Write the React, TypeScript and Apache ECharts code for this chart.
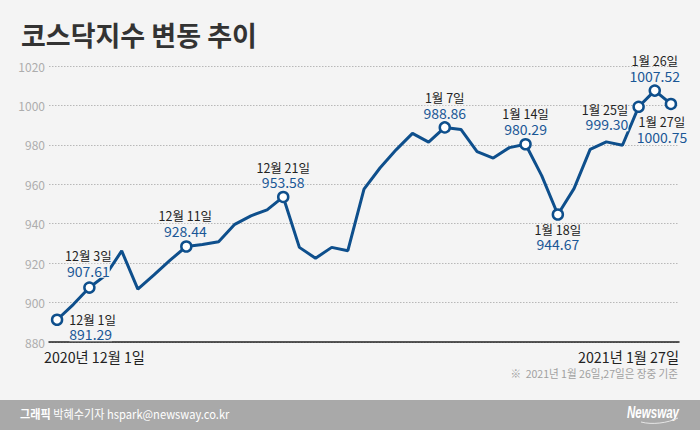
import React, { useEffect, useRef } from 'react';
import * as echarts from 'echarts';

// ---- data ----
const categories = [
  '12월 1일', '12월 2일', '12월 3일', '12월 4일', '12월 7일', '12월 8일', '12월 9일', '12월 10일', '12월 11일',
  '12월 14일', '12월 15일', '12월 16일', '12월 17일', '12월 18일', '12월 21일', '12월 22일', '12월 23일',
  '12월 24일', '12월 28일', '12월 29일', '12월 30일',
  '1월 4일', '1월 5일', '1월 6일', '1월 7일', '1월 8일', '1월 11일', '1월 12일', '1월 13일', '1월 14일',
  '1월 15일', '1월 18일', '1월 19일', '1월 20일', '1월 21일', '1월 22일', '1월 25일', '1월 26일', '1월 27일',
];
const values = [
  891.29, 899.0, 907.61, 913.8, 926.2, 906.8, 914.0, 921.5, 928.44,
  929.5, 930.9, 939.7, 944.0, 947.0, 953.58, 928.0, 922.5,
  928.0, 926.3, 957.5, 968.4,
  977.6, 985.8, 981.4, 988.86, 987.8, 976.6, 973.3, 978.6, 980.29,
  964.4, 944.67, 957.8, 977.7, 981.5, 979.8, 999.3, 1007.52, 1000.75,
];
const labeledIdx = [0, 2, 8, 14, 24, 29, 31, 36, 37, 38];
const yMin = 880;
const yMax = 1020;
const yInterval = 20;
const titleText = '코스닥지수 변동 추이';
const startLabel = '2020년 12월 1일';
const endLabel = '2021년 1월 27일';
const noteText = '※  2021년 1월 26일,27일은 장중 기준';
const creditBold = '그래픽';
const creditRest = ' 박혜수기자 hspark@newsway.co.kr';
const logoText = 'Newsway';

// ---- styles ----
const FONT = "'Noto Sans CJK KR', sans-serif";
const LINE = '#0e4f8c';
const VALUE = '#1a5796';
const BG = '#f4f4f4';

const labelPos: Record<number, any> = {
  0: { position: 'right', distance: 6, offset: [0, 7], align: 'left' },
  2: { position: 'top', distance: 3, offset: [-1, 0] },
  8: { position: 'top', distance: 2, offset: [-1, 0] },
  14: { position: 'top', distance: 1 },
  24: { position: 'top', distance: 1 },
  29: { position: 'top', distance: 2 },
  31: { position: 'bottom', distance: 1 },
  36: { position: 'left', distance: 4, offset: [0, 10], align: 'right' },
  37: { position: 'top', distance: 1 },
  38: { position: 'bottom', distance: 4, offset: [-9, 0] },
};

export default function App() {
  const ref = useRef<HTMLDivElement>(null);
  useEffect(() => {
    document.body.style.margin = '0';
    const chart = echarts.init(ref.current!, null, { renderer: 'svg' });
    const data = values.map((v, i) => {
      if (!labeledIdx.includes(i)) return { value: v, symbol: 'none' };
      const p = labelPos[i];
      return {
        value: v,
        symbol: 'circle',
        symbolSize: 10,
        label: {
          show: true,
          position: p.position,
          distance: p.distance,
          offset: p.offset || [0, 0],
          align: p.align,
          formatter: `{d|${categories[i]}}\n{v|${v.toFixed(2)}}`,
          rich: {
            d: { fontSize: 12.5, color: '#222', lineHeight: 15, fontFamily: FONT, align: p.align },
            v: { fontSize: 14, color: VALUE, lineHeight: 15, fontFamily: FONT, align: p.align, backgroundColor: BG },
          },
        },
      };
    });
    chart.setOption({
      animation: false,
      backgroundColor: BG,
      grid: { left: 49, right: 21, top: 66, bottom: 88 },
      xAxis: {
        type: 'category',
        data: categories,
        boundaryGap: true,
        axisLine: { show: true, lineStyle: { color: '#222', width: 1.5 } },
        axisTick: { show: false },
        axisLabel: { show: false },
        splitLine: { show: false },
      },
      yAxis: {
        type: 'value',
        min: yMin,
        max: yMax,
        interval: yInterval,
        axisLine: { show: false },
        axisTick: { show: false },
        axisLabel: { color: '#adadad', fontSize: 12, margin: 4, fontFamily: FONT, formatter: (v: number) => String(v) },
        splitLine: { show: true, lineStyle: { color: '#b8b8b8', type: [1.5, 1.5], width: 1 } },
      },
      series: [
        {
          type: 'line',
          data,
          showSymbol: true,
          showAllSymbol: true,
          lineStyle: { color: LINE, width: 3 },
          itemStyle: { color: '#fff', borderColor: LINE, borderWidth: 2.5 },
          emphasis: { disabled: true },
          z: 3,
        },
      ],
      graphic: [
        {
          type: 'text', x: 21, y: 34,
          style: { text: titleText, fontSize: 27, fontWeight: 'bold', fontFamily: FONT, fill: '#333', align: 'left', verticalAlign: 'middle' },
        },
        {
          type: 'text', x: 44, y: 356, scaleX: 0.95,
          style: { text: startLabel, fontSize: 15, fontFamily: FONT, fill: '#222', align: 'left', verticalAlign: 'middle' },
        },
        {
          type: 'text', x: 679, y: 356, scaleX: 0.95,
          style: { text: endLabel, fontSize: 15, fontFamily: FONT, fill: '#222', align: 'right', verticalAlign: 'middle' },
        },
        {
          type: 'text', x: 678, y: 373, scaleX: 0.96,
          style: { text: noteText, fontSize: 11, fontFamily: FONT, fill: '#a0a0a0', align: 'right', verticalAlign: 'middle' },
        },
        {
          type: 'rect', shape: { x: 0, y: 400, width: 700, height: 30 },
          style: { fill: '#a9a9a9' },
        },
        {
          type: 'text', x: 20, y: 414, scaleX: 0.93,
          style: {
            text: `{b|${creditBold}}${creditRest}`,
            fontSize: 12, fontFamily: FONT, fill: '#fff', align: 'left', verticalAlign: 'middle',
            rich: { b: { fontWeight: 'bold', fontSize: 12, fontFamily: FONT, fill: '#fff' } },
          },
        },
        {
          type: 'text', x: 679, y: 412, scaleX: 0.68,
          style: { text: logoText, fontSize: 17, fontWeight: 'bold', fontStyle: 'italic', fontFamily: "'Liberation Sans', sans-serif", fill: '#fff', align: 'right', verticalAlign: 'middle' },
        },
        {
          type: 'bezierCurve',
          shape: { x1: 641, y1: 422, x2: 678, y2: 418, cpx1: 652, cpy1: 425, cpx2: 668, cpy2: 423 },
          style: { stroke: '#e6e6e6', lineWidth: 1, fill: 'none' },
        },
      ],
    });
    return () => chart.dispose();
  }, []);
  return <div ref={ref} style={{ width: 700, height: 430, background: BG }} />;
}
